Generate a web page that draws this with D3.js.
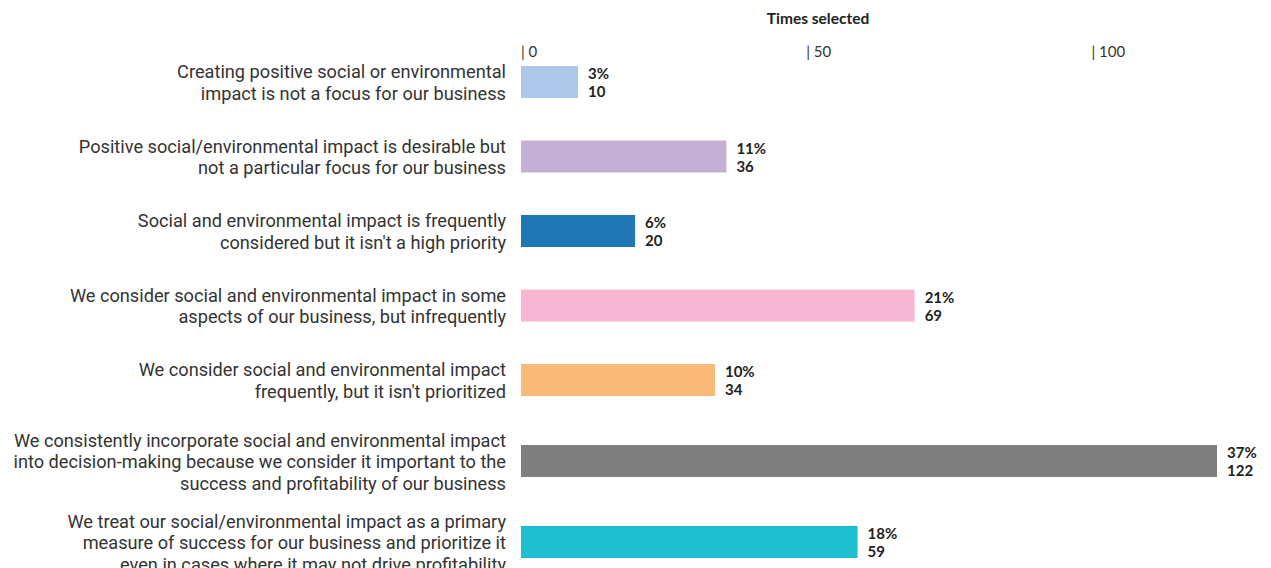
<!DOCTYPE html>
<html>
<head>
<meta charset="utf-8">
<script src="https://cdn.jsdelivr.net/npm/d3@7/dist/d3.min.js"></script>
<style>
  html, body { margin: 0; padding: 0; background: #fff; }
  svg { display: block; }
</style>
</head>
<body>
<svg id="chart" width="1271" height="568"></svg>
<script>
const categories = [
  "Creating positive social or environmental|impact is not a focus for our business",
  "Positive social/environmental impact is desirable but|not a particular focus for our business",
  "Social and environmental impact is frequently|considered but it isn't a high priority",
  "We consider social and environmental impact in some|aspects of our business, but infrequently",
  "We consider social and environmental impact|frequently, but it isn't prioritized",
  "We consistently incorporate social and environmental impact|into decision-making because we consider it important to the|success and profitability of our business",
  "We treat our social/environmental impact as a primary|measure of success for our business and prioritize it|even in cases where it may not drive profitability"
];
const counts = [10, 36, 20, 69, 34, 122, 59];
const percents = ["3%", "11%", "6%", "21%", "10%", "37%", "18%"];
const colors = ["#aec7e8", "#c5b0d5", "#1f77b4", "#f7b6d2", "#fabb78", "#7f7f7f", "#1fbfd2"];
const tickValues = [0, 50, 100];
const axisTitle = "Times selected";

const svg = d3.select("#chart");

const x = d3.scaleLinear().domain([0, 122]).range([521, 1217]);

// row positions: rows with 3-line labels take a little more room
const lineCounts = categories.map(c => c.split("|").length);
const slots = [0];
for (let i = 1; i < categories.length; i++) {
  const extra = Math.max(lineCounts[i], lineCounts[i - 1]) - 2;
  slots.push(slots[i - 1] + 1 + extra * 0.087);
}
const y = d3.scaleLinear().domain([0, slots[slots.length - 1]]).range([82, 542]);
const yc = i => y(slots[i]);
const barH = 32;

// axis title
svg.append("text")
  .attr("x", 818).attr("y", 24)
  .attr("text-anchor", "middle")
  .attr("font-family", "Lato, 'Open Sans', sans-serif")
  .attr("font-weight", "bold")
  .attr("font-size", 15.5)
  .attr("fill", "#222")
  .text(axisTitle);

// ticks rendered as "| value"
svg.append("g").selectAll("text")
  .data(tickValues)
  .join("text")
  .attr("x", d => x(d))
  .attr("y", 57)
  .attr("font-family", "Lato, 'Open Sans', sans-serif")
  .attr("font-size", 15)
  .attr("fill", "#333")
  .text(d => "| " + d);

// bars
svg.append("g").selectAll("rect")
  .data(counts)
  .join("rect")
  .attr("x", x(0))
  .attr("y", (d, i) => yc(i) - barH / 2)
  .attr("width", d => x(d) - x(0))
  .attr("height", barH)
  .attr("fill", (d, i) => colors[i]);

// value labels
const vl = svg.append("g").selectAll("g")
  .data(counts)
  .join("g")
  .attr("transform", (d, i) => `translate(${x(d) + 10},${yc(i)})`);
vl.append("text")
  .attr("y", -3)
  .attr("font-family", "Lato, 'Open Sans', sans-serif")
  .attr("font-weight", "bold")
  .attr("font-size", 15)
  .attr("fill", "#222")
  .text((d, i) => percents[i]);
vl.append("text")
  .attr("y", 15)
  .attr("font-family", "Lato, 'Open Sans', sans-serif")
  .attr("font-weight", "bold")
  .attr("font-size", 15)
  .attr("fill", "#222")
  .text(d => d);

// category labels
const lineH = 21.5;
const cl = svg.append("g").selectAll("text")
  .data(categories)
  .join("text")
  .attr("text-anchor", "end")
  .attr("font-family", "Roboto, sans-serif")
  .attr("font-size", 18.2)
  .attr("fill", "#333")
  .attr("transform", (d, i) => `translate(506,${yc(i)})`);
cl.each(function(d) {
  const lines = d.split("|");
  const t = d3.select(this);
  const off = -(lines.length - 1) * lineH / 2;
  lines.forEach((ln, k) => {
    t.append("tspan")
      .attr("x", 0)
      .attr("y", off + k * lineH + 7)
      .text(ln);
  });
});
</script>
</body>
</html>
